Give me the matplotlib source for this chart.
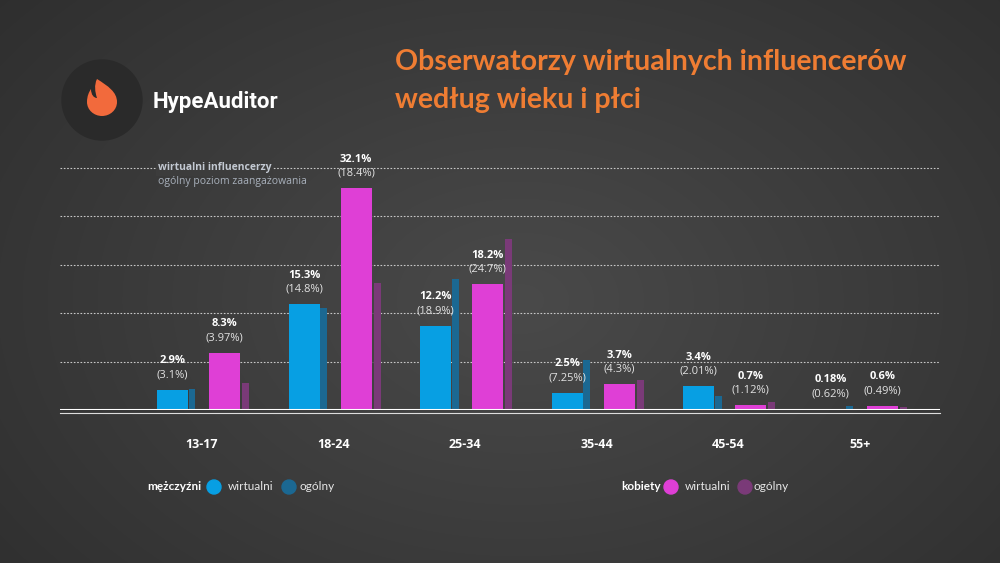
import matplotlib.pyplot as plt
import numpy as np
from matplotlib.path import Path
from matplotlib.patches import PathPatch, Circle

# ---------- data ----------
categories = ['13-17', '18-24', '25-34', '35-44', '45-54', '55+']
men_virtual = [2.9, 15.3, 12.2, 2.5, 3.4, 0.18]
men_overall = [3.1, 14.8, 18.9, 7.25, 2.01, 0.62]
women_virtual = [8.3, 32.1, 18.2, 3.7, 0.7, 0.6]
women_overall = [3.97, 18.4, 24.7, 4.3, 1.12, 0.49]
men_virtual_labels = ['2.9%', '15.3%', '12.2%', '2.5%', '3.4%', '0.18%']
men_overall_labels = ['(3.1%)', '(14.8%)', '(18.9%)', '(7.25%)', '(2.01%)', '(0.62%)']
women_virtual_labels = ['8.3%', '32.1%', '18.2%', '3.7%', '0.7%', '0.6%']
women_overall_labels = ['(3.97%)', '(18.4%)', '(24.7%)', '(4.3%)', '(1.12%)', '(0.49%)']

BLUE = '#079fe3'
BLUE_DARK = '#1b6892'
PINK = '#df3fd6'
PINK_DARK = '#7a3a78'
ORANGE = '#ef7d33'

fig = plt.figure(figsize=(10, 5.63), dpi=100)

# ---------- background (pixel coords) ----------
bg = fig.add_axes([0, 0, 1, 1])
bg.set_xlim(0, 1000)
bg.set_ylim(563, 0)
bg.axis('off')
yy, xx = np.mgrid[0:563, 0:1000]
r = np.sqrt(((xx - 520) / 700.0) ** 2 + ((yy - 300) / 480.0) ** 2)
shade = np.clip(0.29 - 0.11 * r, 0.175, 0.29)
bg.imshow(np.dstack([shade, shade, shade]), extent=(0, 1000, 563, 0), aspect='auto', zorder=0)

# logo
bg.add_patch(Circle((102, 100), 40, color='#2a2a2a', zorder=1))
verts = [(97, 79),
         (108, 86), (117, 92), (117, 102),
         (117, 110), (110, 116), (102, 116),
         (94, 116), (87, 110), (87, 102),
         (87, 96), (89, 92), (91, 89),
         (91, 95), (94, 98), (97, 98),
         (95, 92), (94, 85), (97, 79)]
codes = [Path.MOVETO] + [Path.CURVE4] * 18
bg.add_patch(PathPatch(Path(verts, codes), facecolor='#f26a3c', edgecolor='none', zorder=2))
bg.text(153, 102, 'HypeAuditor', color='white', fontsize=16, fontweight='bold',
        family='Roboto', va='center', ha='left')

# title
bg.text(395, 62, 'Obserwatorzy wirtualnych influencerów', color=ORANGE, fontsize=20.5,
        fontweight='bold', family='Lato', va='center', ha='left')
bg.text(395, 100, 'według wieku i płci', color=ORANGE, fontsize=20.5,
        fontweight='bold', family='Lato', va='center', ha='left')

# bottom legend
leg_y = 487
bg.text(147, leg_y, 'mężczyźni', color='white', fontsize=8.5, fontweight='bold', family='Lato', va='center')
bg.add_patch(Circle((214, leg_y), 7, color=BLUE))
bg.text(228, leg_y, 'wirtualni', color='#e6e6e6', fontsize=8.5, family='Lato', va='center')
bg.add_patch(Circle((289, leg_y), 7, color=BLUE_DARK))
bg.text(299, leg_y, 'ogólny', color='#e6e6e6', fontsize=8.5, family='Lato', va='center')
bg.text(621, leg_y, 'kobiety', color='white', fontsize=8.5, fontweight='bold', family='Lato', va='center')
bg.add_patch(Circle((671, leg_y), 7, color=PINK))
bg.text(685, leg_y, 'wirtualni', color='#e6e6e6', fontsize=8.5, family='Lato', va='center')
bg.add_patch(Circle((745, leg_y), 7, color=PINK_DARK))
bg.text(754, leg_y, 'ogólny', color='#e6e6e6', fontsize=8.5, family='Lato', va='center')

# ---------- chart ----------
ax = fig.add_axes([0.06, (563 - 410) / 563, 0.88, 260 / 563])
ax.patch.set_alpha(0)
x = np.arange(len(categories))
ax.set_xlim(-1.079, 5.608)
ax.set_ylim(0, 37.6)

for gy in [7, 14, 21, 28, 35]:
    ax.axhline(gy, color='#c8c8c8', lw=0.8, linestyle=(0, (1.5, 1.5)), zorder=1)

w_big = 0.236
w_small = 0.053
ax.bar(x - 0.224, men_virtual, w_big, color=BLUE, zorder=3)
ax.bar(x - 0.076, men_overall, w_small, color=BLUE_DARK, zorder=3)
ax.bar(x + 0.171, women_virtual, w_big, color=PINK, zorder=3)
ax.bar(x + 0.330, women_overall, w_small, color=PINK_DARK, zorder=3)

for xs, vals, top_lbl, low_lbl in [(x - 0.224, men_virtual, men_virtual_labels, men_overall_labels),
                                   (x + 0.171, women_virtual, women_virtual_labels, women_overall_labels)]:
    for xi, v, t1, t2 in zip(xs, vals, top_lbl, low_lbl):
        ax.annotate(t2, (xi, v), xytext=(0, 15), textcoords='offset pixels', ha='center', va='center',
                    color='#e2e2e2', fontsize=8, family='Open Sans', zorder=4)
        ax.annotate(t1, (xi, v), xytext=(0, 29), textcoords='offset pixels', ha='center', va='center',
                    color='white', fontsize=8, fontweight='bold', family='Open Sans', zorder=4)

ax.axhline(0, color='white', lw=2.2, zorder=5)
ax.plot([0, 1], [-0.012, -0.012], transform=ax.transAxes, color='#dddddd', lw=0.8,
        clip_on=False, zorder=5)

ax.set_xticks(x)
ax.set_xticklabels(categories, color='white', fontsize=9, fontweight='bold', family='Open Sans')
ax.tick_params(axis='x', length=0, pad=20)
ax.set_yticks([])
for s in ax.spines.values():
    s.set_visible(False)

# note inside chart
ax.text(0.111, 35, 'wirtualni influencerzy', transform=ax.get_yaxis_transform(), color='#c3c9d2',
        fontsize=7.5, fontweight='bold', family='Open Sans', va='center', ha='left', zorder=6,
        bbox=dict(facecolor='#3c3c3c', edgecolor='none', pad=1.5))
ax.text(0.111, 33, 'ogólny poziom zaangażowania', transform=ax.get_yaxis_transform(), color='#a9b1bc',
        fontsize=7.5, family='Open Sans', va='center', ha='left', zorder=6)

fig.savefig('out.png', dpi=100)
